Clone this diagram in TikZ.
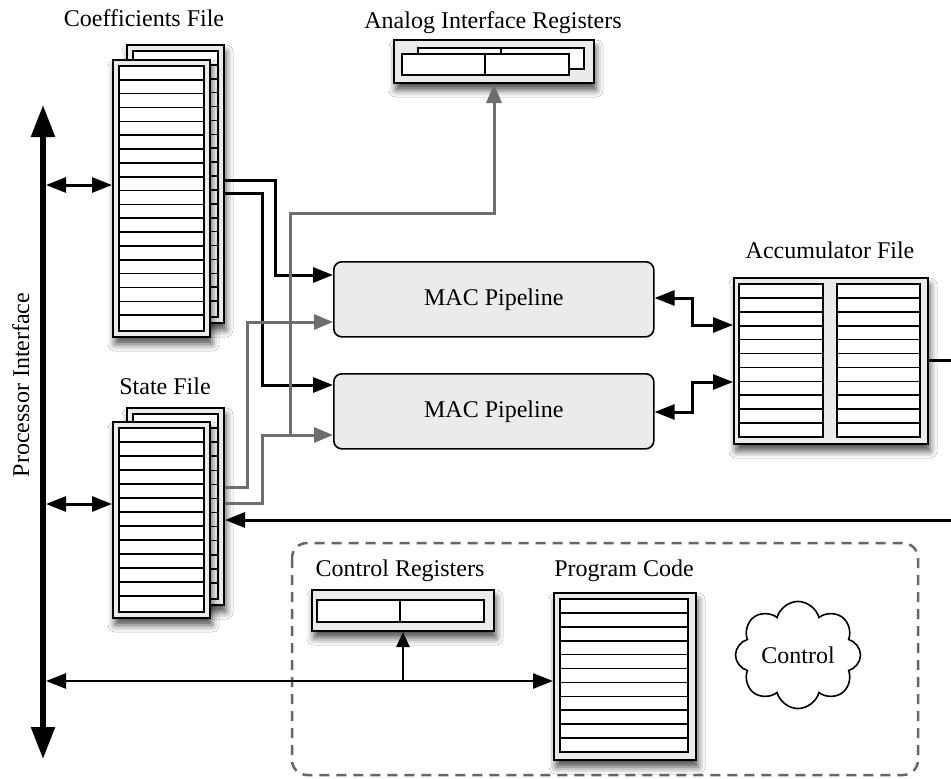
\documentclass[tikz,border=0pt]{standalone}
\usepackage{fontspec}
\setmainfont{Liberation Serif}
\usetikzlibrary{arrows.meta,calc,shapes.symbols,shadows.blur}

\definecolor{panel}{HTML}{EBEBEB}
\definecolor{wire}{HTML}{6E6E6E}
\definecolor{dashgray}{HTML}{666666}

\tikzset{
  sheet/.style={draw=black, line width=2pt, fill=panel, inner sep=0pt,
    blur shadow={shadow xshift=2pt, shadow yshift=-7pt, shadow blur radius=7pt, shadow opacity=70}},
  cell/.style={draw=black, line width=1.6pt, fill=white},
  rowline/.style={draw=black, line width=1.6pt},
  lbl/.style={font=\fontsize{24}{28}\selectfont, inner sep=0pt, anchor=base},
  mac/.style={draw=black, line width=1.6pt, fill=panel, rounded corners=8pt,
    minimum width=320pt, minimum height=75pt, inner sep=0pt, font=\fontsize{24}{28}\selectfont},
  bus/.style={draw=black, line width=5.5pt, {Triangle[length=32pt,width=23pt]}-{Triangle[length=32pt,width=23pt]}},
  dbl/.style={draw=black, line width=3pt, {Triangle[length=20pt,width=15pt]}-{Triangle[length=20pt,width=15pt]}},
  blk/.style={draw=black, line width=3pt, -{Triangle[length=20pt,width=15pt]}},
  gry/.style={draw=wire, line width=3pt, -{Triangle[length=19pt,width=15pt]}},
  thinbi/.style={draw=black, line width=2.5pt, {Triangle[length=20pt,width=15pt]}-{Triangle[length=20pt,width=15pt]}},
  thinup/.style={draw=black, line width=2.5pt, -{Triangle[length=15pt,width=13pt]}},
  group/.style={draw=dashgray, line width=2.5pt, dash pattern=on 10pt off 7pt, rounded corners=15pt},
}

% #1 name, #2 left, #3 top, #4 width, #5 height, #6 rows
\newcommand\filesheet[6]{%
  \node[sheet, anchor=north west, minimum width=#4pt, minimum height=#5pt] (#1) at (#2,#3) {};
  \path[cell] ($(#1.north west)+(7,7)$) rectangle ($(#1.south east)+(-7,-7)$);
  \pgfmathsetmacro\rowh{(#5-14)/#6}
  \pgfmathtruncatemacro\nlast{#6-1}
  \foreach \k in {1,...,\nlast}{
    \draw[rowline] ($(#1.north west)+(7,7+\k*\rowh)$) -- ($(#1.north east)+(-7,7+\k*\rowh)$);
  }
}
% column of cells: #1 left, #2 top, #3 right, #4 bottom, #5 rows
\newcommand\cellcol[5]{%
  \path[cell] (#1,#2) rectangle (#3,#4);
  \pgfmathsetmacro\rowh{(#4-#2)/#5}
  \pgfmathtruncatemacro\nlast{#5-1}
  \foreach \k in {1,...,\nlast}{
    \draw[rowline] (#1,#2+\k*\rowh) -- (#3,#2+\k*\rowh);
  }
}

\begin{document}
\begin{tikzpicture}[x=1pt, y=-1pt]
\useasboundingbox (0,0) rectangle (951,779);
\fill[white] (0,0) rectangle (951,779);

% dashed control group
\draw[group] (292,543) rectangle (918,775);

% labels
\node[lbl] (coefL) at (144,26) {Coefficients File};
\node[lbl] (anaL) at (493,28) {Analog Interface Registers};
\node[lbl] (stateL) at (165,394) {State File};
\node[lbl] (accL) at (830,258) {Accumulator File};
\node[lbl] (ctrlL) at (400,576) {Control Registers};
\node[lbl] (progL) at (624,576) {Program Code};
\node[lbl, rotate=90] (procL) at (29,385) {Processor Interface};

% coefficients file
\filesheet{coefB}{126}{44}{97}{278}{19}
\filesheet{coefF}{112}{59}{97}{277}{19}

% state file
\filesheet{stateB}{126}{407}{97}{197}{13}
\filesheet{stateF}{112}{421}{97}{196}{13}

% analog interface registers
\node[sheet, anchor=north west, minimum width=200pt, minimum height=43pt] (ana) at (393,39) {};
\path[cell] (418,48) rectangle (584,69);
\draw[rowline] (501,48) -- (501,69);
\path[cell] (402,54) rectangle (569,75);
\draw[rowline] (485,54) -- (485,75);

% accumulator file
\node[sheet, anchor=north west, minimum width=194pt, minimum height=166pt] (acc) at (733,277) {};
\cellcol{739}{284}{823}{437}{11}
\cellcol{837}{284}{920}{437}{11}

% control registers
\node[sheet, anchor=north west, minimum width=182pt, minimum height=41pt] (ctrl) at (311,589) {};
\path[cell] (317,600) rectangle (484,622);
\draw[rowline] (400,600) -- (400,622);

% program code
\node[sheet, anchor=north west, minimum width=142pt, minimum height=167pt] (prog) at (553,592) {};
\cellcol{560}{599}{688}{752}{11}

% MAC pipelines
\node[mac, anchor=north west] (mac1) at (333,261) {MAC Pipeline};
\node[mac, anchor=north west] (mac2) at (333,373) {MAC Pipeline};

% control cloud
\node[cloud, draw=black, line width=1.6pt, cloud puffs=8, aspect=1.25, minimum width=125pt,
      minimum height=102pt, inner sep=0pt, font=\fontsize{24}{28}\selectfont] (ctl) at (798,655) {Control};

% processor interface bus
\coordinate (busTop) at (43,105);
\coordinate (busBot) at (43,759);
\draw[bus] (busBot) -- (busTop);
\coordinate (busC) at (46,185);
\coordinate (busS) at (46,504);
\coordinate (busP) at (46,681);
\draw[dbl] (busC) -- (coefF.west |- busC);
\draw[dbl] (busS) -- (stateF.west |- busS);
\draw[thinbi] (busP) -- (prog.west |- busP);
\coordinate (tap) at (ctrl.south |- busP);
\draw[thinup] (tap) -- (ctrl.south);

% coefficients to MACs
\draw[blk] (coefB.east |- 0,180) -| (275,275) -- (mac1.west |- 0,275);
\draw[blk] (coefB.east |- 0,193) -| (262,385) -- (mac2.west |- 0,385);

% state to MACs and analog
\draw[gry] (stateB.east |- 0,487) -| (247,322) -- (mac1.west |- 0,322);
\draw[gry] (stateB.east |- 0,503) -| (262,435) -- (mac2.west |- 0,435);
\coordinate (junc) at (290,435);
\draw[gry] (junc) -- (290,213) -| (ana.south);

% MACs to accumulator
\draw[dbl] (mac1.east |- 0,298) -| (692,325) -- (acc.west |- 0,325);
\draw[dbl] (mac2.east |- 0,412) -| (692,382) -- (acc.west |- 0,382);

% accumulator feedback to state file
\coordinate (edgeA) at (951,360);
\coordinate (edgeB) at (951,520);
\draw[draw=black, line width=3pt] (acc.east |- edgeA) -- (edgeA);
\draw[blk] (edgeB) -- (stateB.east |- edgeB);
\end{tikzpicture}
\end{document}
